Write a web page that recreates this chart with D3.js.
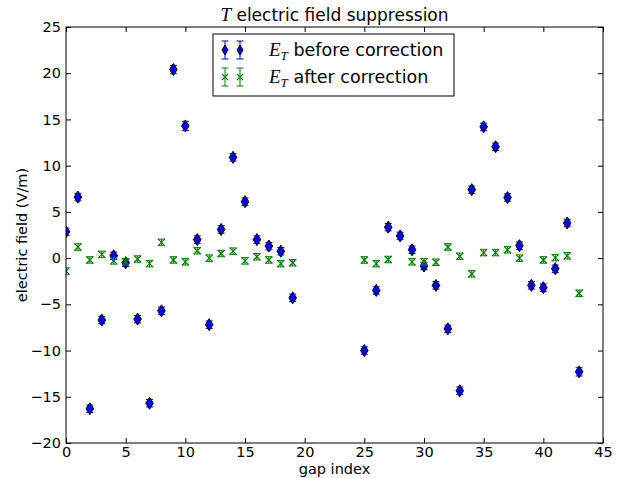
<!DOCTYPE html>
<html>
<head>
<meta charset="utf-8">
<script src="https://cdn.jsdelivr.net/npm/d3@7"></script>
<style>
  body { margin: 0; background: #fff; }
  text { font-family: "DejaVu Sans", sans-serif; }
</style>
</head>
<body>
<script>
// gap index and field values
var gapBefore = [0,1,2,3,4,5,6,7,8,9,10,11,12,13,14,15,16,17,18,19,
                 25,26,27,28,29,30,31,32,33,34,35,36,37,38,39,40,41,42,43];
var fieldBefore = [2.85,6.6,-16.3,-6.7,0.25,-0.5,-6.6,-15.7,-5.7,20.4,14.3,2.0,-7.2,3.1,10.9,6.1,2.0,1.3,0.75,-4.3,
                   -10.0,-3.5,3.35,2.4,0.9,-0.85,-2.95,-7.65,-14.35,7.4,14.2,12.05,6.55,1.35,-2.95,-3.2,-1.15,3.8,-12.3];
var errBefore = [0.4,0.4,0.4,0.4,0.4,0.4,0.4,0.4,0.4,0.45,0.5,0.4,0.4,0.4,0.4,0.4,0.4,0.4,0.4,0.4,
                 0.4,0.4,0.4,0.4,0.4,0.4,0.4,0.4,0.4,0.4,0.4,0.4,0.4,0.4,0.4,0.4,0.4,0.4,0.45];

var gapAfter = [0,1,2,3,4,5,6,7,8,9,10,11,12,13,14,15,16,17,18,19,
                25,26,27,29,30,31,32,33,34,35,36,37,38,40,41,42,43];
var fieldAfter = [-1.4,1.2,-0.2,0.4,-0.3,-0.4,-0.1,-0.6,1.7,-0.2,-0.4,0.8,0.0,0.5,0.75,-0.3,0.15,-0.2,-0.6,-0.5,
                  -0.2,-0.6,-0.15,-0.4,-0.4,-0.45,1.2,0.2,-1.7,0.6,0.6,0.9,0.0,-0.2,0.05,0.25,-3.8];
var errAfter = [0.35,0.35,0.35,0.35,0.35,0.35,0.35,0.35,0.35,0.35,0.35,0.35,0.35,0.35,0.35,0.35,0.35,0.35,0.35,0.35,
                0.35,0.35,0.35,0.35,0.35,0.35,0.35,0.35,0.35,0.35,0.35,0.35,0.35,0.35,0.35,0.35,0.35];

var xTicks = [0,5,10,15,20,25,30,35,40,45];
var yTicks = [-20,-15,-10,-5,0,5,10,15,20,25];

var W = 623, H = 478;
var margin = {top: 27, right: 20, bottom: 35, left: 66};
var width = W - margin.left - margin.right;   // 537
var height = H - margin.top - margin.bottom;  // 416

var blue = "#0000ff", green = "#008000";

var svg = d3.select("body").append("svg")
  .attr("width", W).attr("height", H);

var g = svg.append("g").attr("transform", `translate(${margin.left},${margin.top})`);

var x = d3.scaleLinear().domain([0, 45]).range([0, width]);
var y = d3.scaleLinear().domain([-20, 25]).range([height, 0]);

svg.append("defs").append("clipPath").attr("id", "clip")
  .append("rect").attr("width", width).attr("height", height);

var fmt = function(d){ return d < 0 ? "\u2212" + Math.abs(d) : "" + d; };

// ticks pointing inward on all sides (classic matplotlib)
function tickAxis(axisFn, scale, ticks, tr, labels, pad){
  var a = g.append("g").attr("transform", tr)
    .call(axisFn(scale).tickValues(ticks).tickSize(-5).tickPadding(pad)
      .tickFormat(labels ? fmt : ""));
  a.select(".domain").remove();
  a.selectAll("line").attr("stroke", "#000").attr("stroke-width", 1);
  a.selectAll("text").style("font-size", "14.5px").attr("fill", "#000");
  return a;
}
tickAxis(d3.axisBottom, x, xTicks, `translate(0,${height})`, true, 4);
tickAxis(d3.axisTop, x, xTicks, "translate(0,0)", false, 4);
tickAxis(d3.axisLeft, y, yTicks, "translate(0,0)", true, 8).selectAll("text").attr("dx", "3");
tickAxis(d3.axisRight, y, yTicks, `translate(${width},0)`, false, 4);

var plot = g.append("g").attr("clip-path", "url(#clip)");

var diamond = "M0,-6L3.8,0L0,6L-3.8,0Z";
var cross = "M-3.5,-3.5L3.5,3.5M-3.5,3.5L3.5,-3.5";

function errBars(sel, color, capW){
  sel.append("line")
    .attr("x1", 0).attr("x2", 0)
    .attr("y1", function(d){ return y(d.v + d.e) - y(d.v); })
    .attr("y2", function(d){ return y(d.v - d.e) - y(d.v); })
    .attr("stroke", color);
  sel.append("path")
    .attr("d", function(d){
      var t = y(d.v + d.e) - y(d.v), b = y(d.v - d.e) - y(d.v);
      return `M${-capW},${t}L${capW},${t}M${-capW},${b}L${capW},${b}`;
    })
    .attr("stroke", color).attr("fill", "none");
}

var before = gapBefore.map(function(k, i){ return {k: k, v: fieldBefore[i], e: errBefore[i]}; });
var after = gapAfter.map(function(k, i){ return {k: k, v: fieldAfter[i], e: errAfter[i]}; });

var gb = plot.selectAll(".before").data(before).enter().append("g")
  .attr("class", "before")
  .attr("transform", function(d){ return `translate(${x(d.k)},${y(d.v)})`; });
errBars(gb, blue, 3.5);
gb.append("path").attr("d", diamond).attr("fill", blue).attr("stroke", "#000").attr("stroke-width", 1);

var ga = plot.selectAll(".after").data(after).enter().append("g")
  .attr("class", "after")
  .attr("transform", function(d){ return `translate(${x(d.k)},${y(d.v)})`; });
errBars(ga, green, 3.5);
ga.append("path").attr("d", cross).attr("stroke", green).attr("stroke-width", 1.2).attr("fill", "none");

// frame
g.append("rect").attr("width", width).attr("height", height)
  .attr("fill", "none").attr("stroke", "#000").attr("stroke-width", 1);

// legend
var leg = svg.append("g").attr("transform", "translate(213,34)");
leg.append("rect").attr("width", 241).attr("height", 62)
  .attr("fill", "#fff").attr("stroke", "#000").attr("stroke-width", 1);

var legRows = [
  {color: blue, shape: "d", label: " before correction", cy: 16},
  {color: green, shape: "x", label: " after correction", cy: 43}
];
legRows.forEach(function(r){
  [12, 27].forEach(function(mx){
    var m = leg.append("g").attr("transform", `translate(${mx},${r.cy})`);
    m.append("line").attr("x1", 0).attr("x2", 0).attr("y1", -9).attr("y2", 9).attr("stroke", r.color);
    m.append("path").attr("d", "M-3.5,-9L3.5,-9M-3.5,9L3.5,9").attr("stroke", r.color);
    if (r.shape === "d") {
      m.append("path").attr("d", "M0,-5L3,0L0,5L-3,0Z").attr("fill", r.color).attr("stroke", "#000");
    } else {
      m.append("path").attr("d", "M-3,-3L3,3M-3,3L3,-3").attr("stroke", r.color).attr("stroke-width", 1.2);
    }
  });
  var t = leg.append("text").attr("x", 56).attr("y", r.cy + 6).style("font-size", "17.5px");
  t.append("tspan").text("E").style("font-family", "'Liberation Serif', serif").style("font-style", "italic").style("font-size", "19px");
  t.append("tspan").text("T").attr("dy", 4).style("font-family", "'Liberation Serif', serif").style("font-style", "italic").style("font-size", "13px");
  t.append("tspan").text(r.label).attr("dy", -4);
});

// title
var title = svg.append("text").attr("x", margin.left + width / 2).attr("y", 21)
  .attr("text-anchor", "middle").style("font-size", "17px");
title.append("tspan").text("T").style("font-family", "'Liberation Serif', serif").style("font-style", "italic").style("font-size", "19px");
title.append("tspan").text(" electric field suppression");

// axis labels
svg.append("text").attr("x", margin.left + width / 2).attr("y", 474)
  .attr("text-anchor", "middle").style("font-size", "14.5px").text("gap index");

svg.append("text")
  .attr("transform", `translate(27,${margin.top + height / 2}) rotate(-90)`)
  .attr("text-anchor", "middle").style("font-size", "14.5px").text("electric field (V/m)");
</script>
</body>
</html>
